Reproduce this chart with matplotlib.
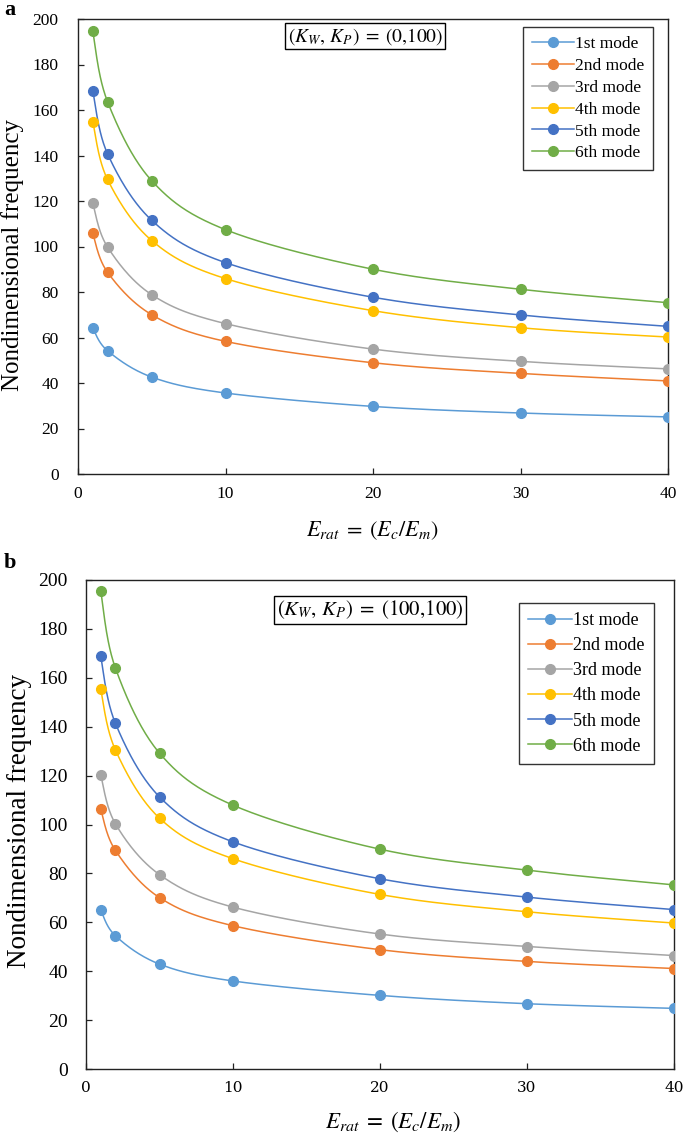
import numpy as np
import matplotlib
matplotlib.use("Agg")
import matplotlib.pyplot as plt

plt.rcParams['mathtext.fontset'] = 'stix'

# ---------------- data ----------------
e_rat = [1, 2, 5, 10, 20, 30, 40]
mode_labels = ["1st mode", "2nd mode", "3rd mode", "4th mode", "5th mode", "6th mode"]
mode_colors = ["#5B9BD5", "#ED7D31", "#A5A5A5", "#FFC000", "#4472C4", "#70AD47"]

# panel a: (K_W, K_P) = (0,100)
a_mode1 = [64.2, 54.2, 42.6, 35.6, 29.7, 26.8, 25.1]
a_mode2 = [105.8, 88.7, 70.0, 58.3, 48.9, 44.2, 40.9]
a_mode3 = [119.1, 99.8, 78.8, 66.1, 54.9, 49.5, 46.2]
a_mode4 = [154.9, 129.5, 102.6, 85.9, 71.8, 64.3, 60.2]
a_mode5 = [168.4, 140.8, 111.5, 92.9, 77.7, 69.9, 64.9]
a_mode6 = [194.6, 163.7, 128.9, 107.4, 90.0, 81.2, 75.3]

# panel b: (K_W, K_P) = (100,100)
b_mode1 = [65.1, 54.5, 42.9, 36.0, 30.1, 26.7, 24.8]
b_mode2 = [106.3, 89.4, 70.1, 58.6, 48.8, 44.0, 41.1]
b_mode3 = [120.3, 100.3, 79.5, 66.2, 55.2, 50.1, 46.4]
b_mode4 = [155.3, 130.5, 102.6, 86.0, 71.4, 64.3, 59.7]
b_mode5 = [168.8, 141.4, 111.3, 92.9, 77.8, 70.3, 65.2]
b_mode6 = [195.5, 164.0, 129.2, 107.9, 89.9, 81.3, 75.3]

x_ticks = [0, 10, 20, 30, 40]
y_ticks = [0, 20, 40, 60, 80, 100, 120, 140, 160, 180, 200]

FW, FH = 685, 1137
fig = plt.figure(figsize=(FW / 100, FH / 100), dpi=100)


def px_axes(l, t, r, b):
    return fig.add_axes([l / FW, 1 - b / FH, (r - l) / FW, (b - t) / FH])


def smooth(ax, xs, ys):
    """Excel-like smoothed line (Catmull-Rom through the points, in display space)."""
    pts = ax.transData.transform(np.column_stack([xs, ys]))
    P = np.vstack([pts[0], pts, pts[-1]])
    out = []
    t = np.linspace(0, 1, 40)[:, None]
    for i in range(1, len(P) - 2):
        p0, p1, p2, p3 = P[i - 1], P[i], P[i + 1], P[i + 2]
        c1 = p1 + (p2 - p0) / 6.0
        c2 = p2 - (p3 - p1) / 6.0
        seg = ((1 - t) ** 3) * p1 + 3 * ((1 - t) ** 2) * t * c1 + 3 * (1 - t) * t ** 2 * c2 + t ** 3 * p2
        out.append(seg)
    out = np.vstack(out)
    return ax.transData.inverted().transform(out)


def panel(ax, series, ann, ann_fs, tick_fs, xtick_font, xtick_fs, leg_fs, leg_anchor,
          leg_spacing, ypad):
    ax.set_xlim(0, 40)
    ax.set_ylim(0, 200)
    ax.set_xticks(x_ticks)
    ax.set_yticks(y_ticks)
    for s in ax.spines.values():
        s.set_linewidth(1.0)
        s.set_color("#222222")
    ax.tick_params(direction="in", length=4, width=0.9, color="#222222")
    ax.tick_params(axis="y", pad=ypad, labelsize=tick_fs)
    ax.tick_params(axis="x", pad=9, labelsize=xtick_fs)
    for lab in ax.get_yticklabels():
        lab.set_family("Liberation Serif")
    for lab in ax.get_xticklabels():
        lab.set_family(xtick_font)
    fig.canvas.draw()
    for ys, c, lab in zip(series, mode_colors, mode_labels):
        sm = smooth(ax, e_rat, ys)
        ax.plot(sm[:, 0], sm[:, 1], color=c, lw=1.1, zorder=2)
        ax.plot(e_rat, ys, linestyle="none", marker="o", ms=7.0, color=c, zorder=3)
        ax.plot([], [], color=c, lw=1.1, marker="o", ms=7.0, label=lab)
    leg = ax.legend(loc="upper right", bbox_to_anchor=leg_anchor, borderaxespad=0,
                    frameon=True, fancybox=False, edgecolor="black",
                    prop={"family": "Liberation Serif", "size": leg_fs},
                    handlelength=2.4, handletextpad=0.1, labelspacing=leg_spacing,
                    borderpad=0.5)
    leg.get_frame().set_linewidth(1.0)
    ax.text(ann[0], ann[1], ann[2], transform=ax.transAxes, ha="center", va="center",
            fontsize=ann_fs,
            bbox=dict(boxstyle="square,pad=0.12", fc="white", ec="black", lw=1.0))


# panel a
ax1 = px_axes(78, 19, 668, 474)
panel(ax1, [a_mode1, a_mode2, a_mode3, a_mode4, a_mode5, a_mode6],
      (0.487, 0.962, r"$(K_W,\,K_P)\;=\;(0{,}100)$"), 14,
      12.5, "Liberation Serif", 12.5, 12.5, (0.975, 0.982), 0.33, 14)
fig.text(13 / FW, 1 - 255 / FH, "Nondimensional frequency", rotation=90,
         ha="center", va="center", family="Liberation Serif", fontsize=18)
fig.text(372 / FW, 1 - 531 / FH, r"$E_{rat}\;=\;(E_c/E_m)$", ha="center", va="center",
         fontsize=16)
fig.text(10 / FW, 1 - 10 / FH, "a", ha="center", va="center", family="Liberation Serif",
         fontsize=16, fontweight="bold")

# panel b
ax2 = px_axes(86, 580, 674, 1069)
panel(ax2, [b_mode1, b_mode2, b_mode3, b_mode4, b_mode5, b_mode6],
      (0.483, 0.939, r"$(K_W,\,K_P)\;=\;(100{,}100)$"), 15,
      14, "DejaVu Serif", 11, 13.0, (0.966, 0.953), 0.45, 13)
fig.text(20 / FW, 1 - 821 / FH, "Nondimensional frequency", rotation=90,
         ha="center", va="center", family="Liberation Serif", fontsize=19.5)
fig.text(393 / FW, 1 - 1122 / FH, r"$E_{rat}\;=\;(E_c/E_m)$", ha="center", va="center",
         fontsize=16.5)
fig.text(10 / FW, 1 - 563 / FH, "b", ha="center", va="center", family="Liberation Serif",
         fontsize=16, fontweight="bold")

fig.savefig("out.png", dpi=100)
